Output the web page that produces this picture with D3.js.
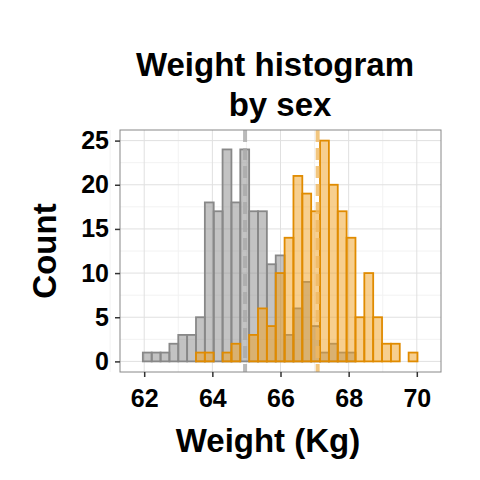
<!DOCTYPE html><html><head><meta charset="utf-8">
<script src="https://cdn.jsdelivr.net/npm/d3@7"></script>
<style>body{margin:0;background:#fff}text{font-family:"Liberation Sans",Arial,sans-serif;font-weight:bold}</style></head><body>
<svg id="c" width="480" height="480"></svg>
<script>
const binStart = 61.7, binWidth = 0.26;
const femaleCounts = [0,1,1,1,2,3,3,5,18,17,24,18,24,17,17,11,12,3,6,9,4,1,2,1,1,0,0,0,0,0,0,0,0];
const maleCounts   = [0,0,0,0,0,0,0,1,1,0,1,2,0,3,6,4,10,14,21,19,17,25,20,17,14,5,10,5,2,2,0,1,0];
const means = [64.96, 67.09];
const xTicks = [62,64,66,68,70];
const yTicks = [0,5,10,15,20,25];

const svg = d3.select("#c");
const L=120,R=441,T=130,B=372;
const x = d3.scaleLinear().domain([61.29,70.71]).range([L,R]);
const y = d3.scaleLinear().domain([-1.2,26.2]).range([B,T]);
svg.append("rect").attr("x",L).attr("y",T).attr("width",R-L).attr("height",B-T).attr("fill","#fff");
const g=svg.append("g");
[61,63,65,67,69].forEach(v=>g.append("line").attr("x1",x(v)).attr("x2",x(v)).attr("y1",T).attr("y2",B).attr("stroke","#f2f2f2"));
[2.5,7.5,12.5,17.5,22.5].forEach(v=>g.append("line").attr("y1",y(v)).attr("y2",y(v)).attr("x1",L).attr("x2",R).attr("stroke","#f2f2f2"));
xTicks.forEach(v=>g.append("line").attr("x1",x(v)).attr("x2",x(v)).attr("y1",T).attr("y2",B).attr("stroke","#e0e0e0"));
yTicks.forEach(v=>g.append("line").attr("y1",y(v)).attr("y2",y(v)).attr("x1",L).attr("x2",R).attr("stroke","#e0e0e0"));

function drawHist(counts, fill, stroke){
  counts.forEach((c,i)=>{
    const x0=x(binStart+i*binWidth), x1=x(binStart+(i+1)*binWidth);
    svg.append("rect").attr("x",x0).attr("y",y(c)).attr("width",x1-x0).attr("height",y(0)-y(c))
      .attr("fill",fill).attr("fill-opacity",0.5).attr("stroke",stroke).attr("stroke-width",1.8);
  });
}
drawHist(femaleCounts,"#888888","#888888");
drawHist(maleCounts,"#f0a020","#e08b00");
svg.append("line").attr("x1",x(means[0])).attr("x2",x(means[0])).attr("y1",T).attr("y2",B).attr("stroke","#aaaaaa").attr("stroke-width",4).attr("stroke-dasharray","12,6").attr("opacity",0.8);
svg.append("line").attr("x1",x(means[1])).attr("x2",x(means[1])).attr("y1",T).attr("y2",B).attr("stroke","#f0b860").attr("stroke-width",4).attr("stroke-dasharray","12,6").attr("opacity",0.8);
svg.append("rect").attr("x",L).attr("y",T).attr("width",R-L).attr("height",B-T).attr("fill","none").attr("stroke","#888");

const xa=svg.append("g").attr("transform",`translate(0,${B})`).call(d3.axisBottom(x).tickValues(xTicks).tickSize(5).tickPadding(10));
const ya=svg.append("g").attr("transform",`translate(${L},0)`).call(d3.axisLeft(y).tickValues(yTicks).tickSize(5).tickPadding(6));
[xa,ya].forEach(a=>{a.select(".domain").remove();a.selectAll("line").attr("stroke","#333").attr("stroke-width",1.5);a.selectAll("text").attr("fill","#000").style("font-size","25px").style("font-family","Liberation Sans").style("font-weight","bold");});
xa.selectAll("text").attr("dy","0.8em");
svg.append("text").attr("x",275).attr("y",76).attr("text-anchor","middle").style("font-size","33px").text("Weight histogram");
svg.append("text").attr("x",280).attr("y",116).attr("text-anchor","middle").style("font-size","33px").text("by sex");
svg.append("text").attr("x",268).attr("y",452).attr("text-anchor","middle").style("font-size","33px").text("Weight (Kg)");
svg.append("text").attr("transform","translate(56,251) rotate(-90)").attr("text-anchor","middle").style("font-size","33px").text("Count");
</script></body></html>
